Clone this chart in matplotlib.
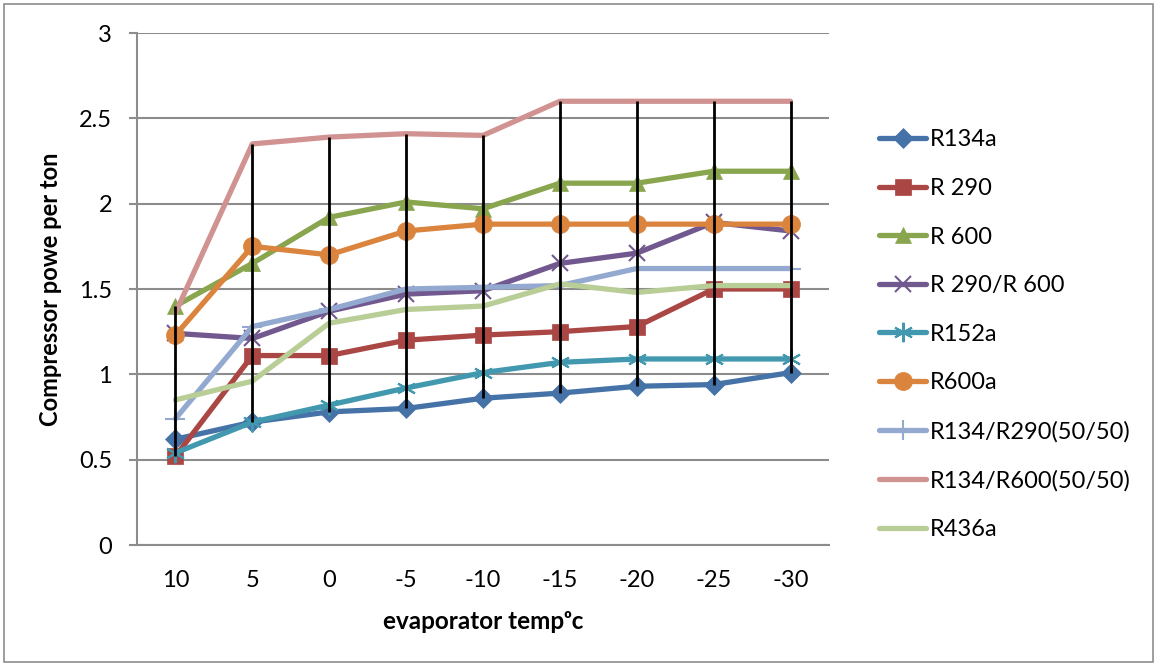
import numpy as np
import matplotlib
matplotlib.use("Agg")
import matplotlib.pyplot as plt
from matplotlib.patches import Rectangle

plt.rcParams['font.family'] = ['Lato', 'DejaVu Sans']

temps = ['10', '5', '0', '-5', '-10', '-15', '-20', '-25', '-30']

r134a = [0.62, 0.72, 0.78, 0.80, 0.86, 0.89, 0.93, 0.94, 1.01]
r290 = [0.52, 1.11, 1.11, 1.20, 1.23, 1.25, 1.28, 1.50, 1.50]
r600 = [1.40, 1.65, 1.92, 2.01, 1.97, 2.12, 2.12, 2.19, 2.19]
r290_r600 = [1.24, 1.21, 1.37, 1.47, 1.49, 1.65, 1.71, 1.89, 1.84]
r152a = [0.54, 0.72, 0.82, 0.92, 1.01, 1.07, 1.09, 1.09, 1.09]
r600a = [1.23, 1.75, 1.70, 1.84, 1.88, 1.88, 1.88, 1.88, 1.88]
r134_r290 = [0.74, 1.28, 1.38, 1.50, 1.51, 1.52, 1.62, 1.62, 1.62]
r134_r600 = [1.36, 2.35, 2.39, 2.41, 2.40, 2.60, 2.60, 2.60, 2.60]
r436a = [0.85, 0.96, 1.30, 1.38, 1.40, 1.53, 1.48, 1.52, 1.52]

labels = ['R134a', 'R 290', 'R 600', 'R 290/R 600', 'R152a', 'R600a',
          'R134/R290(50/50)', 'R134/R600(50/50)', 'R436a']
series = [r134a, r290, r600, r290_r600, r152a, r600a, r134_r290, r134_r600, r436a]
colors = ['#4572A7', '#AA4643', '#89A54E', '#71588F', '#4198AF', '#DB843D',
          '#93A9CF', '#D19392', '#B9CD96']
markers = ['D', 's', '^', 'x', (6, 2, 0), 'o', '+', None, None]
msizes = [10, 11, 12, 12, 14, 13, 14, 0, 0]

fig = plt.figure(figsize=(11.56, 6.65), dpi=100)
ax = fig.add_axes([137/1156, 1-545/665, (829-137)/1156, (545-33)/665])

x = np.arange(len(temps))
for vals, lab, c, m, ms in zip(series, labels, colors, markers, msizes):
    ax.plot(x, vals, color=c, lw=3.8, marker=m, markersize=ms,
            markeredgewidth=1.5 if m in ('x', '+', (6, 2, 0)) else 0.5,
            markeredgecolor=c, markerfacecolor=c, label=lab,
            solid_capstyle='round', zorder=3)

# high-low lines
data = np.array(series)
ax.vlines(x, data.min(axis=0), data.max(axis=0), color='black', lw=2, zorder=5)

ax.set_xlim(-0.5, len(temps) - 0.5)
ax.set_ylim(0, 3)
ax.set_yticks([0, 0.5, 1, 1.5, 2, 2.5, 3])
ax.set_yticklabels(['0', '0.5', '1', '1.5', '2', '2.5', '3'])
ax.set_xticks(x)
ax.set_xticklabels(temps)
ax.yaxis.grid(True, color='#8C8C8C', lw=1.5)
ax.set_axisbelow(True)
for s in ['top', 'right']:
    ax.spines[s].set_visible(False)
for s in ['left', 'bottom']:
    ax.spines[s].set_color('#8C8C8C')
    ax.spines[s].set_linewidth(1.5)
ax.tick_params(axis='y', length=6, width=1.5, color='#8C8C8C', pad=12, labelsize=17)
ax.tick_params(axis='x', length=0, pad=18, labelsize=17)

ax.set_ylabel('Compressor powe per ton', fontsize=17, fontweight='bold', labelpad=12)
ax.set_xlabel('evaporator tempᵒc', fontsize=17.5, fontweight='bold', labelpad=14)

fig.legend(loc='upper left', bbox_to_anchor=(858/1156, 1-108/665), frameon=False,
           fontsize=17, handlelength=2.0, handletextpad=0.15, labelspacing=1.17)

fig.patches.append(Rectangle((4/1156, 3/665), 1149/1156, 658/665, transform=fig.transFigure,
                             fill=False, edgecolor='#8C8C8C', lw=1.2))

fig.savefig('out.png', dpi=100)
